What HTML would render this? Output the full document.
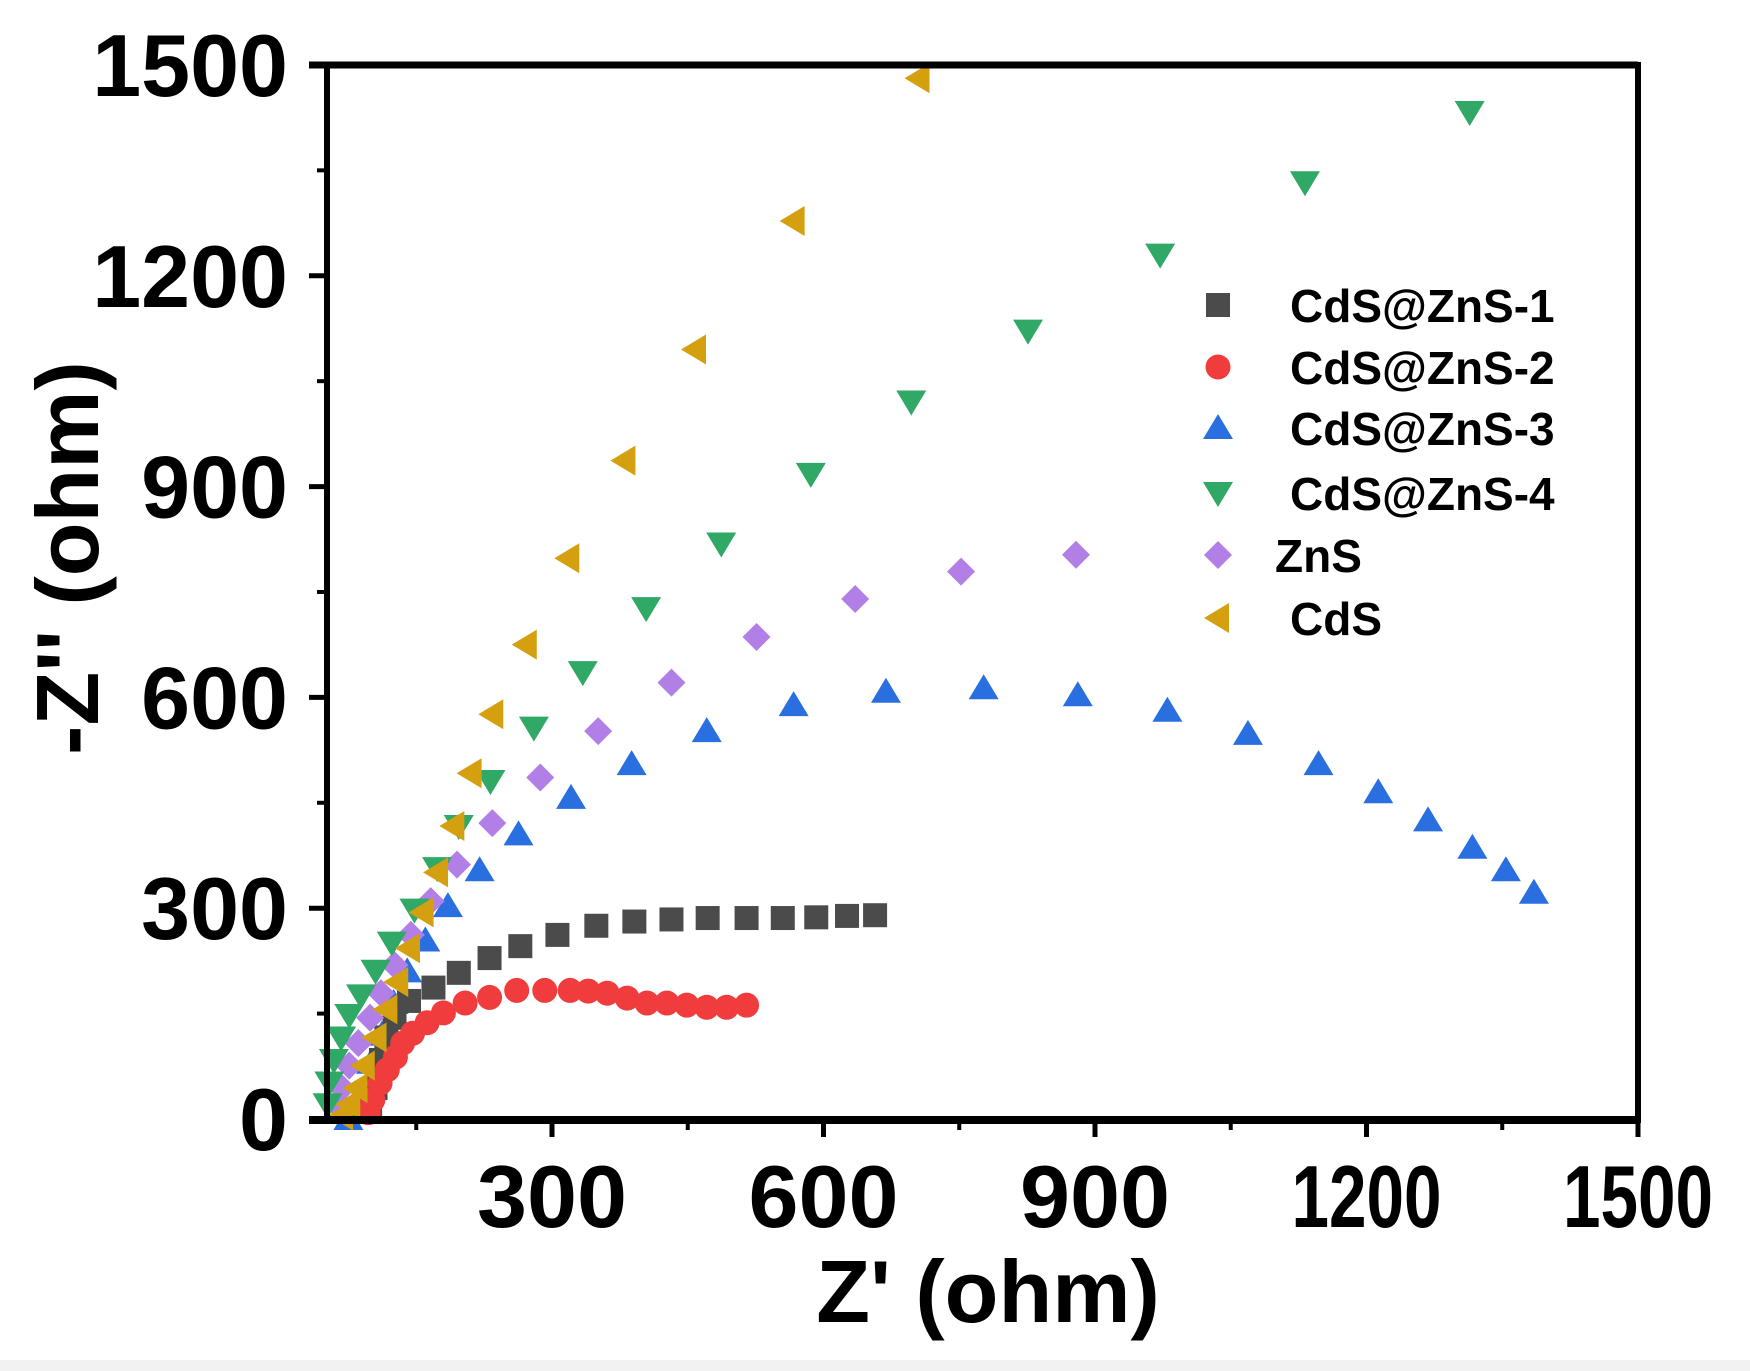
<!DOCTYPE html>
<html><head><meta charset="utf-8"><style>
html,body{margin:0;padding:0;background:#fff}
svg{display:block}
text{font-family:"Liberation Sans",Arial,sans-serif;font-weight:bold;fill:#000}
</style></head><body>
<svg id="chart" width="1750" height="1371" viewBox="0 0 1750 1371" xmlns="http://www.w3.org/2000/svg">
<rect x="0" y="0" width="1750" height="1371" fill="#fff"/>
<rect x="0" y="1360" width="1750" height="11" fill="#f2f2f2"/>
<g id="marks"></g>
<g id="axes"></g>
<text x="988" y="1322" font-size="88" text-anchor="middle">Z' (ohm)</text>
<text transform="translate(98,558) rotate(-90)" font-size="88" text-anchor="middle">-Z'' (ohm)</text>
<g id="legend"></g>
</svg>
<script>
const xTicks = [300, 600, 900, 1200, 1500];
const yTicks = [0, 300, 600, 900, 1200, 1500];
const seriesNames = ["CdS@ZnS-1", "CdS@ZnS-2", "CdS@ZnS-3", "CdS@ZnS-4", "ZnS", "CdS"];
const s1x = [657,626,592,555,515,472,432,391,349,306,265,231,197,169,142,126,117,111,105,99];
const s1y = [290,289,287,286,286,286,284,281,275,262,246,229,208,187,168,144,116,84,44,13];
const s2x = [515,493,471,449,427,405,383,361,340,320,292,261,231,204,180,162,146,135,127,118,110,102,97];
const s2y = [162,159,159,162,165,165,172,179,182,183,183,183,173,165,151,137,122,108,88,70,51,27,9];
const s3x = [1385,1354,1317,1268,1213,1147,1069,980,881,777,669,567,471,388,321,263,220,185,160,140,125,112,100,90,80,75];
const s3y = [322,354,386,425,465,505,548,581,603,613,608,589,552,505,457,405,354,303,254,210,165,120,80,40,10,0];
const s4x = [1314,1132,972,826,697,586,487,404,334,280,232,197,173,148,123,105,89,76,67,59,54,52];
const s4y = [1433,1333,1230,1122,1021,918,819,727,636,557,481,417,357,298,251,211,176,148,116,84,52,21];
const s5x = [879,752,635,526,432,351,287,234,195,166,144,126,111,99,86,76,68,62];
const s5y = [803,779,740,686,621,552,486,421,362,310,262,219,179,144,108,76,44,21];
const s6x = [705,567,458,380,318,271,234,210,191,173,157,142,129,117,105,92,84,76,68];
const s6y = [1481,1278,1095,937,798,675,576,492,417,351,294,243,195,156,116,76,44,21,5];

const X0 = 280.5, XS = 0.905, Y0 = 1119, YS = 0.7027;
function sx(v){ return X0 + v*XS; }
function sy(v){ return Y0 - v*YS; }
const NS = "http://www.w3.org/2000/svg";
function mk(tag, attrs, parent){
  const e = document.createElementNS(NS, tag);
  for (const k in attrs) e.setAttribute(k, attrs[k]);
  parent.appendChild(e); return e;
}
const colors = ["#4b4b4b","#f03c3c","#2a6fe0","#30a866","#b17fe6","#d4a010"];
const shapes = ["square","circle","up","down","diamond","left"];
function marker(shape, cx, cy, color, parent){
  const r = 13;
  let e;
  if (shape === "square") e = mk("rect",{x:cx-12,y:cy-12,width:24,height:24,fill:color},parent);
  else if (shape === "circle") e = mk("circle",{cx:cx,cy:cy,r:12.5,fill:color},parent);
  else {
    let pts;
    if (shape === "up") pts = [[cx,cy-r-1],[cx+r+2,cy+r-2],[cx-r-2,cy+r-2]];
    else if (shape === "down") pts = [[cx,cy+r+1],[cx+r+2,cy-r+2],[cx-r-2,cy-r+2]];
    else if (shape === "diamond") pts = [[cx,cy-r-1],[cx+r+1,cy],[cx,cy+r+1],[cx-r-1,cy]];
    else pts = [[cx-r-1,cy],[cx+r-2,cy-r-2],[cx+r-2,cy+r+2]];
    e = mk("polygon",{points:pts.map(p=>p.join(",")).join(" "),fill:color},parent);
  }
  return e;
}
const marks = document.getElementById("marks");
const allX = [s1x,s2x,s3x,s4x,s5x,s6x];
const allY = [s1y,s2y,s3y,s4y,s5y,s6y];
const order = [2,0,1,4,3,5];
order.forEach(function(i){
  const g = mk("g",{},marks);
  
  
  for (let j = allX[i].length-1; j >= 0; j--){
    const m = marker(shapes[i], sx(allX[i][j]), sy(allY[i][j]), colors[i], g);
    
    
  }
});

const axes = document.getElementById("axes");
const L = 327, R = 1638, T = 65, B = 1120;
const frame = mk("path",{d:`M${L} ${T} H${R} V${B} H${L} Z`,fill:"none",stroke:"#000","stroke-width":6},axes);


mk("line",{x1:L-18,y1:B,x2:R,y2:B,stroke:"#000","stroke-width":8},axes);
mk("line",{x1:L-18,y1:T,x2:R,y2:T,stroke:"#000","stroke-width":7},axes);
xTicks.forEach(function(v){
  mk("line",{x1:sx(v),y1:B,x2:sx(v),y2:B+17,stroke:"#000","stroke-width":5},axes);
  mk("line",{x1:sx(v-150),y1:B,x2:sx(v-150),y2:B+10,stroke:"#000","stroke-width":4},axes);
  const t = mk("text",{x:sx(v),y:1227,"font-size":88,"text-anchor":"middle",textLength:150,lengthAdjust:"spacingAndGlyphs"},axes);
  t.textContent = v;
  
  
});
yTicks.forEach(function(v){
  mk("line",{x1:L-18,y1:sy(v),x2:L,y2:sy(v),stroke:"#000","stroke-width":5},axes);
  if (v < 1500) mk("line",{x1:L-10,y1:sy(v+150),x2:L,y2:sy(v+150),stroke:"#000","stroke-width":4},axes);
  const t = mk("text",{x:288,y:sy(v)+31,"font-size":88,"text-anchor":"end"},axes);
  t.textContent = v;
  
  
});

const legend = document.getElementById("legend");
const ly = [305,367,428,493,555,618];
const lx = [1290,1290,1290,1290,1275,1290];
seriesNames.forEach(function(n,i){
  const g = mk("g",{},legend);
  
  
  marker(shapes[i], 1218, ly[i], colors[i], g);
  const t = mk("text",{x:lx[i],y:ly[i]+17,"font-size":46},g);
  t.textContent = n;
});
</script>
</body></html>
